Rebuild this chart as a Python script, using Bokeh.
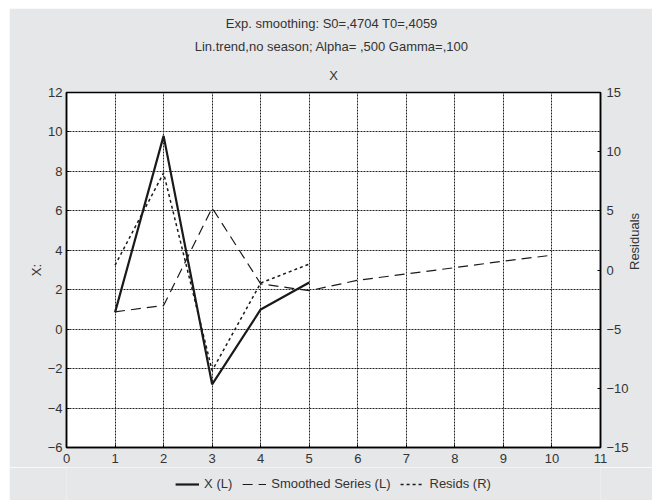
import math
from bokeh.plotting import figure
from bokeh.layouts import column, row
from bokeh.models import (Range1d, LinearAxis, FixedTicker, Title, Legend, LegendItem, Spacer)
from bokeh.embed import file_html
from bokeh.resources import INLINE

# ---- data ----
t_x = [1, 2, 3, 4, 5]
x_vals = [0.85, 9.8, -2.8, 1.0, 2.37]
t_s = [1, 2, 3, 4, 5, 6, 7, 8, 9, 10]
smoothed = [0.88, 1.2, 6.15, 2.3, 1.95, 2.48, 2.8, 3.12, 3.45, 3.75]
t_r = [1, 2, 3, 4, 5]
resids = [0.4, 8.2, -8.5, -1.1, 0.5]

x_ticks = list(range(0, 12))
left_ticks = [-6, -4, -2, 0, 2, 4, 6, 8, 10, 12]
right_ticks = [-15, -10, -5, 0, 5, 10, 15]

title1 = "Exp. smoothing:  S0=,4704 T0=,4059"
title2 = "Lin.trend,no season; Alpha=  ,500 Gamma=,100"
title3 = "X"
legend_labels = ["X (L)", "Smoothed Series (L)", "Resids (R)"]

FONT = "Liberation Sans"
BG = "#e6e7e8"
TXT = "#333333"
LINE = "#1a1a1a"
STYLES = [dict(line_width=2.2), dict(line_width=1.2, line_dash="10 6"),
          dict(line_width=1.5, line_dash="3 3")]

W = 643
p = figure(width=W, height=459, output_backend="svg", toolbar_location=None,
           x_range=Range1d(0, 11), y_range=Range1d(-6, 12),
           min_border_left=57, min_border_right=52, min_border_bottom=20,
           min_border_top=0)
p.background_fill_color = "white"
p.border_fill_color = BG
p.outline_line_color = "black"
p.outline_line_width = 1.5

p.extra_y_ranges = {"r": Range1d(-15, 15)}
raxis = LinearAxis(y_range_name="r", ticker=FixedTicker(ticks=right_ticks), axis_label="Residuals")
p.add_layout(raxis, "right")

laxis = p.left[0]
p.below[0].ticker = FixedTicker(ticks=x_ticks)
laxis.ticker = FixedTicker(ticks=left_ticks)
laxis.axis_label = "X:"

for ax in p.axis:
    ax.axis_line_color = "black"
    ax.axis_line_width = 1.5
    ax.major_tick_in = 3
    ax.major_tick_out = 0
    ax.minor_tick_line_color = None
    ax.major_tick_line_color = "black"
    ax.major_label_text_font = FONT
    ax.major_label_text_font_size = "13px"
    ax.major_label_text_color = TXT
    ax.axis_label_text_font = FONT
    ax.axis_label_text_font_size = "13px"
    ax.axis_label_text_font_style = "normal"
    ax.axis_label_text_color = TXT
    ax.major_label_standoff = 6

laxis.major_label_standoff = 4
laxis.axis_label_standoff = 1
raxis.major_label_standoff = 6
raxis.axis_label_standoff = 3
raxis.axis_label_orientation = math.pi / 2

p.xgrid.ticker = FixedTicker(ticks=x_ticks)
p.ygrid.ticker = FixedTicker(ticks=left_ticks)
for g in (p.xgrid, p.ygrid):
    g.grid_line_color = "#222222"
    g.grid_line_dash = "2 1"
    g.grid_line_width = 1

p.line(t_x, x_vals, line_color=LINE, **STYLES[0])
p.line(t_s, smoothed, line_color=LINE, **STYLES[1])
p.line(t_r, resids, line_color=LINE, y_range_name="r", **STYLES[2])

p.title = None
for txt, so in ((title3, 20), (title2, 3), (title1, 10)):
    p.add_layout(Title(text=txt, align="center", text_font=FONT, text_font_size="13px",
                       text_font_style="normal", text_color=TXT, standoff=so), "above")

# legend strip
p2 = figure(width=W, height=33, output_backend="svg", toolbar_location=None,
            x_range=Range1d(0, 1), y_range=Range1d(0, 1),
            x_axis_type=None, y_axis_type=None,
            min_border_left=0, min_border_right=0, min_border_top=0, min_border_bottom=0)
p2.background_fill_color = BG
p2.border_fill_color = BG
p2.outline_line_color = None
p2.grid.visible = False
items = []
nan = float("nan")
for lab, st in zip(legend_labels, STYLES):
    r = p2.line([nan], [nan], line_color=LINE, **st)
    items.append(LegendItem(label=lab, renderers=[r]))
legend = Legend(items=items, orientation="horizontal", location="center",
                background_fill_alpha=0, border_line_color=None,
                label_text_font=FONT, label_text_font_size="13px", label_text_color=TXT,
                glyph_width=24, spacing=10, label_standoff=5, padding=2, margin=0)
p2.add_layout(legend, "center")

layout = column(Spacer(height=8),
                row(Spacer(width=9), column(p, p2, spacing=0), spacing=0),
                spacing=0)
open("out.html", "w").write(file_html(layout, INLINE))
